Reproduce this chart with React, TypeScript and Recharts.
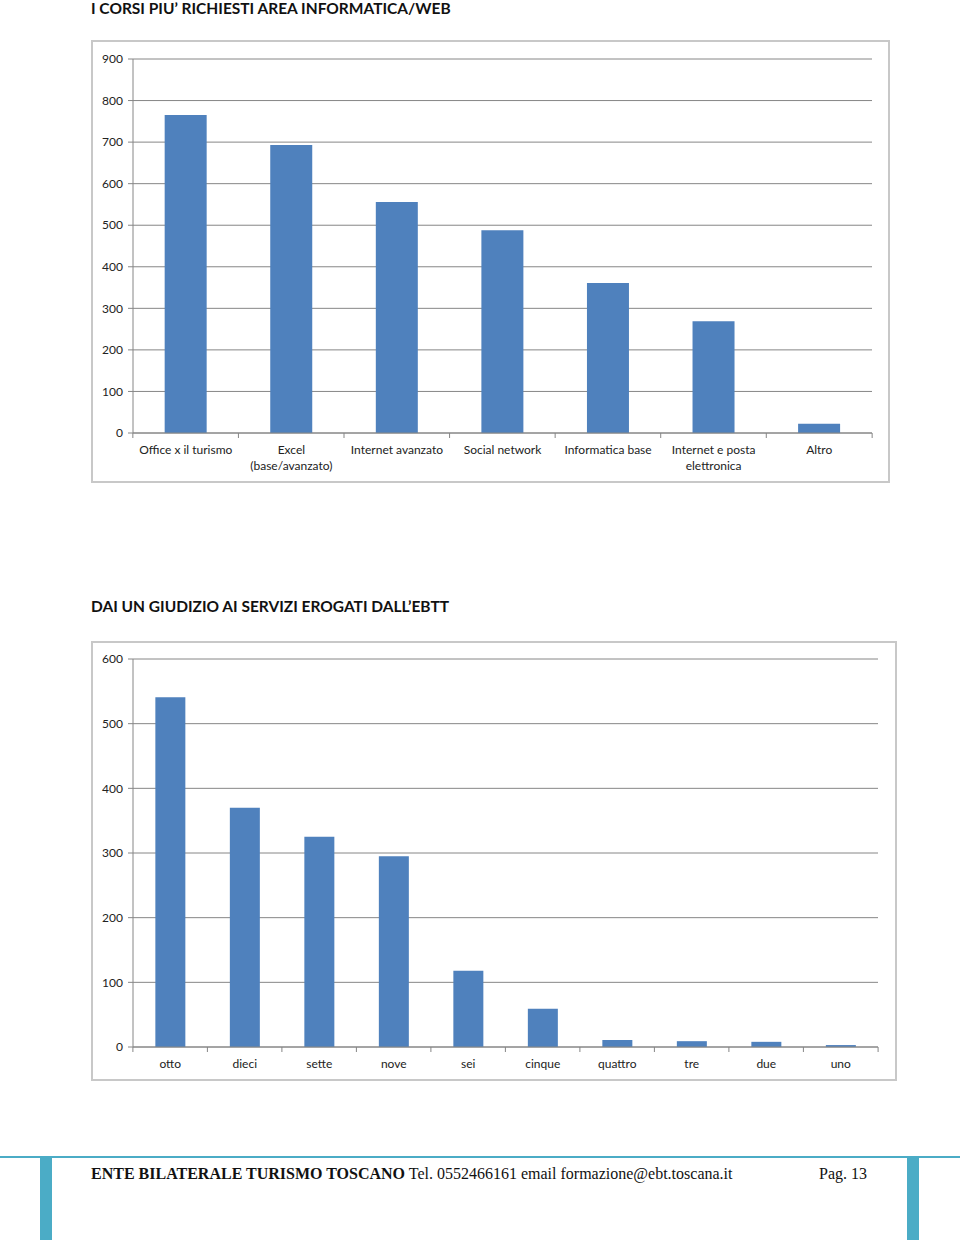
import { BarChart, Bar, XAxis, YAxis, CartesianGrid } from 'recharts';

// Chart 1 - corsi richiesti
const corsiCategories = [
  'Office x il turismo',
  'Excel\n(base/avanzato)',
  'Internet avanzato',
  'Social network',
  'Informatica base',
  'Internet e posta\nelettronica',
  'Altro',
];
const corsiValues = [765, 693, 556, 488, 361, 269, 22];
const corsiTicks = [0, 100, 200, 300, 400, 500, 600, 700, 800, 900];

// Chart 2 - giudizio servizi
const giudizioCategories = ['otto', 'dieci', 'sette', 'nove', 'sei', 'cinque', 'quattro', 'tre', 'due', 'uno'];
const giudizioValues = [541, 370, 325, 295, 118, 59, 11, 9, 8, 3];
const giudizioTicks = [0, 100, 200, 300, 400, 500, 600];

const corsiData = corsiCategories.map((name, i) => ({ name, value: corsiValues[i] }));
const giudizioData = giudizioCategories.map((name, i) => ({ name, value: giudizioValues[i] }));

const FONT = 'Lato, "Open Sans", sans-serif';
const BLUE = '#4f81bd';
const AXIS = '#868686';

function CategoryTick(props: any) {
  const { x, y, payload, band } = props;
  const lines = String(payload.value).split('\n');
  return (
    <g>
      <line x1={x - band / 2} y1={y - 8} x2={x - band / 2} y2={y - 3} stroke={AXIS} />
      {payload.index === props.count - 1 && (
        <line x1={x + band / 2} y1={y - 8} x2={x + band / 2} y2={y - 3} stroke={AXIS} />
      )}
      <text x={x} y={y + 13} textAnchor="middle" fontSize={12} fill="#222" fontFamily={FONT}>
        {lines.map((l, i) => (
          <tspan key={i} x={x} dy={i === 0 ? 0 : 16}>{l}</tspan>
        ))}
      </text>
    </g>
  );
}

const frame = (left: number, top: number, w: number, h: number): React.CSSProperties => ({
  position: 'absolute',
  left,
  top,
  width: w,
  height: h,
  border: '2px solid #c8c8c8',
  boxSizing: 'border-box',
  background: '#fff',
});

export default function App() {
  const w1 = 799, h1 = 443;
  const m1 = { top: 17, right: 16, left: 10, bottom: 18 };
  const band1 = (w1 - 42 - m1.right) / corsiCategories.length;
  const w2 = 806, h2 = 440;
  const m2 = { top: 16, right: 17, left: 10, bottom: 2 };
  const band2 = (w2 - 42 - m2.right) / giudizioCategories.length;

  return (
    <div style={{ position: 'absolute', left: 0, top: 0, width: 960, height: 1240, background: '#fff', fontFamily: FONT }}>
      <div style={{ position: 'absolute', left: 91, top: -1, fontSize: 15.5, fontWeight: 700, color: '#111' }}>
        I CORSI PIU’ RICHIESTI AREA INFORMATICA/WEB
      </div>
      <div style={frame(91, 40, w1, h1)}>
        <BarChart width={w1 - 4} height={h1 - 4} data={corsiData} margin={m1} barCategoryGap="30%">
          <CartesianGrid vertical={false} stroke={AXIS} strokeWidth={1} />
          <XAxis
            dataKey="name"
            interval={0}
            stroke={AXIS}
            tickLine={false}
            tick={<CategoryTick band={band1} count={corsiCategories.length} />}
          />
          <YAxis
            width={30}
            domain={[0, 900]}
            ticks={corsiTicks}
            stroke={AXIS}
            tickSize={5}
            tickMargin={5}
            tick={{ fontSize: 12, fill: '#222', fontFamily: FONT }}
          />
          <Bar dataKey="value" fill={BLUE} isAnimationActive={false} />
        </BarChart>
      </div>

      <div style={{ position: 'absolute', left: 91, top: 597, fontSize: 15.5, fontWeight: 700, color: '#111' }}>
        DAI UN GIUDIZIO AI SERVIZI EROGATI DALL’EBTT
      </div>
      <div style={frame(91, 641, w2, h2)}>
        <BarChart width={w2 - 4} height={h2 - 4} data={giudizioData} margin={m2} barCategoryGap="30%">
          <CartesianGrid vertical={false} stroke={AXIS} strokeWidth={1} />
          <XAxis
            dataKey="name"
            interval={0}
            stroke={AXIS}
            tickLine={false}
            tick={<CategoryTick band={band2} count={giudizioCategories.length} />}
          />
          <YAxis
            width={30}
            domain={[0, 600]}
            ticks={giudizioTicks}
            stroke={AXIS}
            tickSize={5}
            tickMargin={5}
            tick={{ fontSize: 12, fill: '#222', fontFamily: FONT }}
          />
          <Bar dataKey="value" fill={BLUE} isAnimationActive={false} />
        </BarChart>
      </div>

      {/* footer */}
      <div style={{ position: 'absolute', left: 0, top: 1156, width: 960, height: 2, background: '#4bacc6' }} />
      <div style={{ position: 'absolute', left: 40, top: 1157, width: 12, height: 83, background: '#4bacc6' }} />
      <div style={{ position: 'absolute', left: 907, top: 1157, width: 12, height: 83, background: '#4bacc6' }} />
      <div
        style={{
          position: 'absolute',
          left: 91,
          top: 1165,
          fontSize: 16,
          fontFamily: '"Liberation Serif", "DejaVu Serif", serif',
          color: '#111',
          whiteSpace: 'nowrap',
        }}
      >
        <b>ENTE BILATERALE TURISMO TOSCANO</b> Tel. 0552466161 email formazione@ebt.toscana.it
      </div>
      <div
        style={{
          position: 'absolute',
          left: 819,
          top: 1165,
          fontSize: 16,
          fontFamily: '"Liberation Serif", "DejaVu Serif", serif',
          color: '#111',
        }}
      >
        Pag. 13
      </div>
    </div>
  );
}
